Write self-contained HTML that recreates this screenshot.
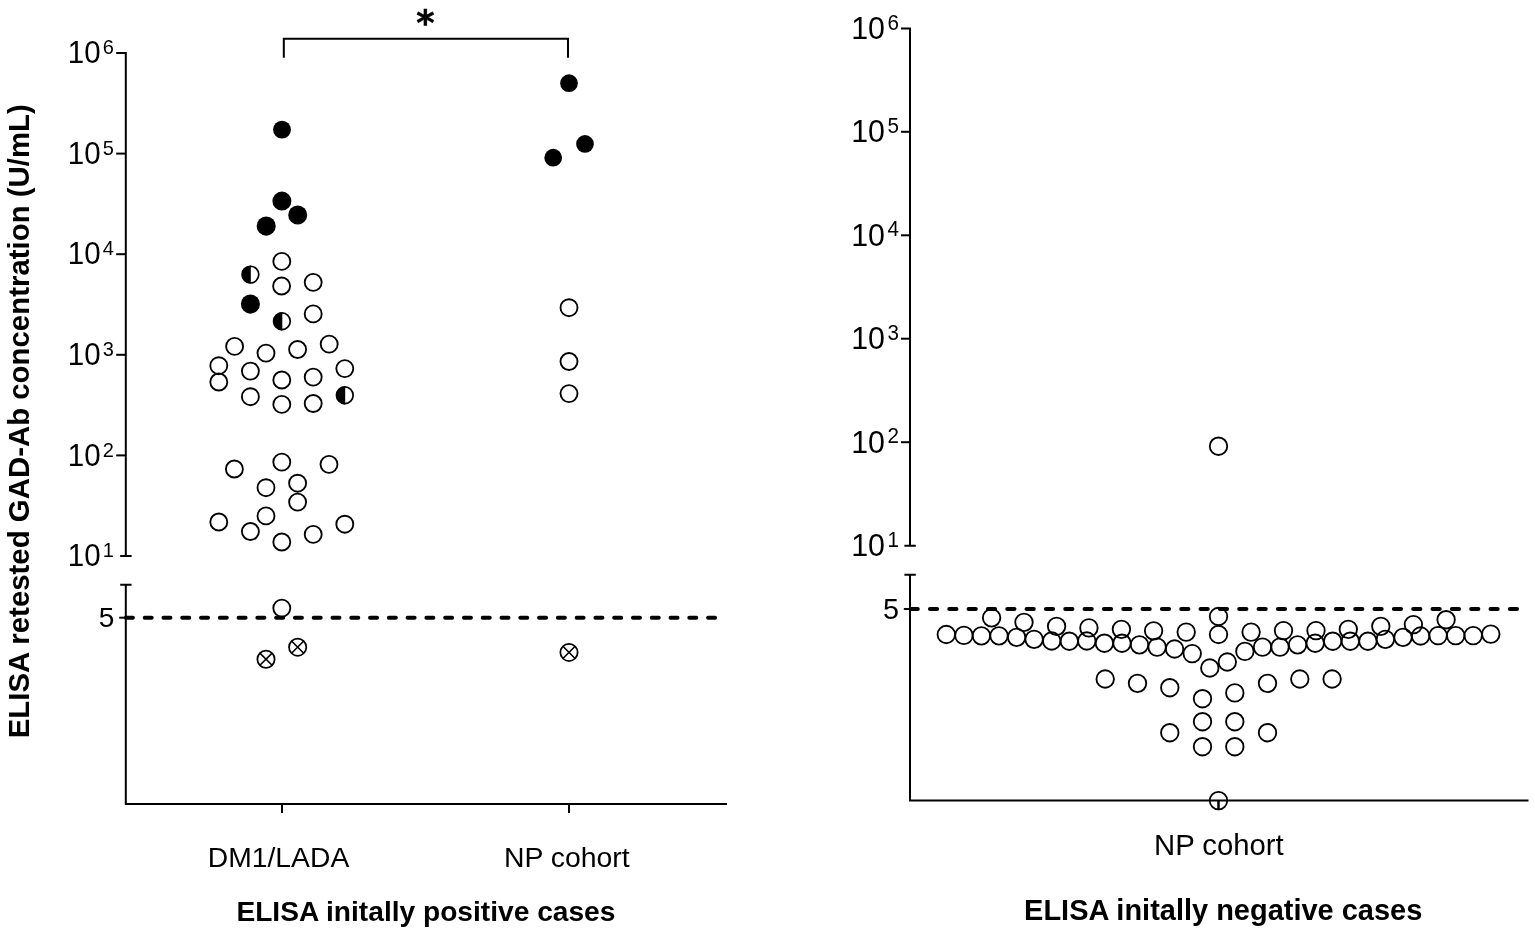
<!DOCTYPE html>
<html><head><meta charset="utf-8"><title>ELISA GAD-Ab</title>
<style>html,body{margin:0;padding:0;background:#fff;}svg{display:block;}</style>
</head><body>
<svg width="1535" height="936" viewBox="0 0 1535 936">
<rect x="0" y="0" width="1535" height="936" fill="#fff"/>
<g stroke="#000" stroke-width="2.0" fill="none" stroke-linecap="butt">
<path d="M116.2 53.0H125.8V556.0M120.2 556.0H131.6M120.2 584.8H131.6M125.8 584.8V803.9H727.0"/>
<path d="M116.2 153.6H125.8"/>
<path d="M116.2 254.2H125.8"/>
<path d="M116.2 354.8H125.8"/>
<path d="M116.2 455.4H125.8"/>
<path d="M119.2 617.7H125.8"/>
<path d="M282.0 803.9V813.1"/>
<path d="M569.0 803.9V813.1"/>
<path d="M283.8 57.8V38.7H568.0V57.8"/>
<path d="M901.0 28.4H910.0V545.7M904.4 545.7H915.8M904.4 574.8H915.8M910.0 574.8V800.4H1528.5"/>
<path d="M901.0 131.8H910.0"/>
<path d="M901.0 235.3H910.0"/>
<path d="M901.0 338.7H910.0"/>
<path d="M901.0 442.2H910.0"/>
<path d="M903.8 609.0H910.0"/>
<path d="M1218.5 800.4V809.4"/>
</g>
<path d="M125.9 617.7H717" stroke="#000" stroke-width="4" stroke-linecap="round" stroke-dasharray="7.0 11.78" fill="none"/>
<path d="M910.6 609.0H1518.4" stroke="#000" stroke-width="4" stroke-linecap="round" stroke-dasharray="7.2 12.13" fill="none"/>
<circle cx="281.8" cy="261.4" r="8.5" fill="none" stroke="#000" stroke-width="1.85"/>
<circle cx="281.6" cy="286" r="8.5" fill="none" stroke="#000" stroke-width="1.85"/>
<circle cx="313.2" cy="282.3" r="8.5" fill="none" stroke="#000" stroke-width="1.85"/>
<circle cx="313.2" cy="313.9" r="8.5" fill="none" stroke="#000" stroke-width="1.85"/>
<circle cx="234.6" cy="346.4" r="8.5" fill="none" stroke="#000" stroke-width="1.85"/>
<circle cx="266" cy="353.1" r="8.5" fill="none" stroke="#000" stroke-width="1.85"/>
<circle cx="297.6" cy="349.5" r="8.5" fill="none" stroke="#000" stroke-width="1.85"/>
<circle cx="329.2" cy="344.1" r="8.5" fill="none" stroke="#000" stroke-width="1.85"/>
<circle cx="218.8" cy="365.7" r="8.5" fill="none" stroke="#000" stroke-width="1.85"/>
<circle cx="218.8" cy="382" r="8.5" fill="none" stroke="#000" stroke-width="1.85"/>
<circle cx="250.4" cy="371.1" r="8.5" fill="none" stroke="#000" stroke-width="1.85"/>
<circle cx="281.8" cy="380" r="8.5" fill="none" stroke="#000" stroke-width="1.85"/>
<circle cx="313.2" cy="377.1" r="8.5" fill="none" stroke="#000" stroke-width="1.85"/>
<circle cx="344.8" cy="368.6" r="8.5" fill="none" stroke="#000" stroke-width="1.85"/>
<circle cx="250.4" cy="396.7" r="8.5" fill="none" stroke="#000" stroke-width="1.85"/>
<circle cx="281.8" cy="404.4" r="8.5" fill="none" stroke="#000" stroke-width="1.85"/>
<circle cx="313.2" cy="403.5" r="8.5" fill="none" stroke="#000" stroke-width="1.85"/>
<circle cx="234.4" cy="469" r="8.5" fill="none" stroke="#000" stroke-width="1.85"/>
<circle cx="281.8" cy="462.1" r="8.5" fill="none" stroke="#000" stroke-width="1.85"/>
<circle cx="329" cy="464.3" r="8.5" fill="none" stroke="#000" stroke-width="1.85"/>
<circle cx="266" cy="487.7" r="8.5" fill="none" stroke="#000" stroke-width="1.85"/>
<circle cx="297.6" cy="483.2" r="8.5" fill="none" stroke="#000" stroke-width="1.85"/>
<circle cx="297.6" cy="502.1" r="8.5" fill="none" stroke="#000" stroke-width="1.85"/>
<circle cx="266" cy="515.9" r="8.5" fill="none" stroke="#000" stroke-width="1.85"/>
<circle cx="218.8" cy="522" r="8.5" fill="none" stroke="#000" stroke-width="1.85"/>
<circle cx="250.4" cy="531.5" r="8.5" fill="none" stroke="#000" stroke-width="1.85"/>
<circle cx="281.8" cy="542" r="8.5" fill="none" stroke="#000" stroke-width="1.85"/>
<circle cx="313.2" cy="534.4" r="8.5" fill="none" stroke="#000" stroke-width="1.85"/>
<circle cx="344.8" cy="524.2" r="8.5" fill="none" stroke="#000" stroke-width="1.85"/>
<circle cx="281.8" cy="608.1" r="8.5" fill="none" stroke="#000" stroke-width="1.85"/>
<circle cx="569" cy="307.7" r="8.5" fill="none" stroke="#000" stroke-width="1.85"/>
<circle cx="569" cy="361.5" r="8.5" fill="none" stroke="#000" stroke-width="1.85"/>
<circle cx="569" cy="393.6" r="8.5" fill="none" stroke="#000" stroke-width="1.85"/>
<circle cx="282.0" cy="129.6" r="8.95" fill="#000"/>
<circle cx="281.9" cy="201.1" r="9.5" fill="#000"/>
<circle cx="297.7" cy="215.0" r="9.5" fill="#000"/>
<circle cx="266.2" cy="226.1" r="9.55" fill="#000"/>
<circle cx="250.4" cy="304.1" r="9.55" fill="#000"/>
<circle cx="569" cy="83.2" r="8.85" fill="#000"/>
<circle cx="585.0" cy="143.9" r="8.85" fill="#000"/>
<circle cx="553.2" cy="157.7" r="8.85" fill="#000"/>
<circle cx="250.4" cy="274.6" r="8.35" fill="none" stroke="#000" stroke-width="1.7"/>
<path d="M250.80 265.41A9.2 9.2 0 0 0 250.80 283.79Z" fill="#000"/>
<circle cx="281.9" cy="321.25" r="8.35" fill="none" stroke="#000" stroke-width="1.7"/>
<path d="M282.30 312.06A9.2 9.2 0 0 0 282.30 330.44Z" fill="#000"/>
<circle cx="344.8" cy="395.3" r="8.35" fill="none" stroke="#000" stroke-width="1.7"/>
<path d="M345.20 386.11A9.2 9.2 0 0 0 345.20 404.49Z" fill="#000"/>
<circle cx="266.0" cy="659.2" r="8.625" fill="none" stroke="#000" stroke-width="1.75"/>
<path d="M259.90 653.10L272.10 665.30M272.10 653.10L259.90 665.30" stroke="#000" stroke-width="1.6"/>
<circle cx="297.65" cy="647.15" r="8.625" fill="none" stroke="#000" stroke-width="1.75"/>
<path d="M291.55 641.05L303.75 653.25M303.75 641.05L291.55 653.25" stroke="#000" stroke-width="1.6"/>
<circle cx="569" cy="652.4" r="8.625" fill="none" stroke="#000" stroke-width="1.75"/>
<path d="M562.90 646.30L575.10 658.50M575.10 646.30L562.90 658.50" stroke="#000" stroke-width="1.6"/>
<circle cx="946.3" cy="634.5" r="8.75" fill="none" stroke="#000" stroke-width="1.85"/>
<circle cx="963.9" cy="635.4" r="8.75" fill="none" stroke="#000" stroke-width="1.85"/>
<circle cx="981.4" cy="635.8" r="8.75" fill="none" stroke="#000" stroke-width="1.85"/>
<circle cx="999.0" cy="635.8" r="8.75" fill="none" stroke="#000" stroke-width="1.85"/>
<circle cx="1016.6" cy="637.3" r="8.75" fill="none" stroke="#000" stroke-width="1.85"/>
<circle cx="1034.1" cy="639.3" r="8.75" fill="none" stroke="#000" stroke-width="1.85"/>
<circle cx="1051.7" cy="641.0" r="8.75" fill="none" stroke="#000" stroke-width="1.85"/>
<circle cx="1069.3" cy="641.2" r="8.75" fill="none" stroke="#000" stroke-width="1.85"/>
<circle cx="1086.8" cy="641.0" r="8.75" fill="none" stroke="#000" stroke-width="1.85"/>
<circle cx="1104.4" cy="643.2" r="8.75" fill="none" stroke="#000" stroke-width="1.85"/>
<circle cx="1122.0" cy="643.2" r="8.75" fill="none" stroke="#000" stroke-width="1.85"/>
<circle cx="1139.5" cy="644.8" r="8.75" fill="none" stroke="#000" stroke-width="1.85"/>
<circle cx="1157.1" cy="647.1" r="8.75" fill="none" stroke="#000" stroke-width="1.85"/>
<circle cx="1174.6" cy="649.0" r="8.75" fill="none" stroke="#000" stroke-width="1.85"/>
<circle cx="1192.2" cy="653.6" r="8.75" fill="none" stroke="#000" stroke-width="1.85"/>
<circle cx="1209.8" cy="668.0" r="8.75" fill="none" stroke="#000" stroke-width="1.85"/>
<circle cx="1227.3" cy="662.0" r="8.75" fill="none" stroke="#000" stroke-width="1.85"/>
<circle cx="1244.9" cy="651.4" r="8.75" fill="none" stroke="#000" stroke-width="1.85"/>
<circle cx="1262.5" cy="647.1" r="8.75" fill="none" stroke="#000" stroke-width="1.85"/>
<circle cx="1280.0" cy="647.1" r="8.75" fill="none" stroke="#000" stroke-width="1.85"/>
<circle cx="1297.6" cy="644.8" r="8.75" fill="none" stroke="#000" stroke-width="1.85"/>
<circle cx="1315.2" cy="643.2" r="8.75" fill="none" stroke="#000" stroke-width="1.85"/>
<circle cx="1332.7" cy="641.2" r="8.75" fill="none" stroke="#000" stroke-width="1.85"/>
<circle cx="1350.3" cy="641.2" r="8.75" fill="none" stroke="#000" stroke-width="1.85"/>
<circle cx="1367.9" cy="641.2" r="8.75" fill="none" stroke="#000" stroke-width="1.85"/>
<circle cx="1385.4" cy="639.3" r="8.75" fill="none" stroke="#000" stroke-width="1.85"/>
<circle cx="1403.0" cy="637.3" r="8.75" fill="none" stroke="#000" stroke-width="1.85"/>
<circle cx="1420.6" cy="636.0" r="8.75" fill="none" stroke="#000" stroke-width="1.85"/>
<circle cx="1438.1" cy="635.6" r="8.75" fill="none" stroke="#000" stroke-width="1.85"/>
<circle cx="1455.7" cy="635.6" r="8.75" fill="none" stroke="#000" stroke-width="1.85"/>
<circle cx="1473.2" cy="635.6" r="8.75" fill="none" stroke="#000" stroke-width="1.85"/>
<circle cx="1490.8" cy="634.1" r="8.75" fill="none" stroke="#000" stroke-width="1.85"/>
<circle cx="991.6" cy="617.8" r="8.75" fill="none" stroke="#000" stroke-width="1.85"/>
<circle cx="1024" cy="622.3" r="8.75" fill="none" stroke="#000" stroke-width="1.85"/>
<circle cx="1056.6" cy="626.3" r="8.75" fill="none" stroke="#000" stroke-width="1.85"/>
<circle cx="1088.9" cy="627.9" r="8.75" fill="none" stroke="#000" stroke-width="1.85"/>
<circle cx="1121.4" cy="629.3" r="8.75" fill="none" stroke="#000" stroke-width="1.85"/>
<circle cx="1153.6" cy="630.8" r="8.75" fill="none" stroke="#000" stroke-width="1.85"/>
<circle cx="1186.2" cy="632.1" r="8.75" fill="none" stroke="#000" stroke-width="1.85"/>
<circle cx="1218.5" cy="616.5" r="8.75" fill="none" stroke="#000" stroke-width="1.85"/>
<circle cx="1218.5" cy="634.5" r="8.75" fill="none" stroke="#000" stroke-width="1.85"/>
<circle cx="1251.1" cy="632.1" r="8.75" fill="none" stroke="#000" stroke-width="1.85"/>
<circle cx="1283.5" cy="630.6" r="8.75" fill="none" stroke="#000" stroke-width="1.85"/>
<circle cx="1316" cy="630.6" r="8.75" fill="none" stroke="#000" stroke-width="1.85"/>
<circle cx="1348.3" cy="629.3" r="8.75" fill="none" stroke="#000" stroke-width="1.85"/>
<circle cx="1380.8" cy="626.3" r="8.75" fill="none" stroke="#000" stroke-width="1.85"/>
<circle cx="1413.4" cy="624.6" r="8.75" fill="none" stroke="#000" stroke-width="1.85"/>
<circle cx="1446.1" cy="619.7" r="8.75" fill="none" stroke="#000" stroke-width="1.85"/>
<circle cx="1105.2" cy="679" r="8.75" fill="none" stroke="#000" stroke-width="1.85"/>
<circle cx="1137.5" cy="683.3" r="8.75" fill="none" stroke="#000" stroke-width="1.85"/>
<circle cx="1169.8" cy="687.7" r="8.75" fill="none" stroke="#000" stroke-width="1.85"/>
<circle cx="1202.5" cy="698.7" r="8.75" fill="none" stroke="#000" stroke-width="1.85"/>
<circle cx="1234.8" cy="692.9" r="8.75" fill="none" stroke="#000" stroke-width="1.85"/>
<circle cx="1267.5" cy="683.3" r="8.75" fill="none" stroke="#000" stroke-width="1.85"/>
<circle cx="1299.8" cy="679" r="8.75" fill="none" stroke="#000" stroke-width="1.85"/>
<circle cx="1332.1" cy="679" r="8.75" fill="none" stroke="#000" stroke-width="1.85"/>
<circle cx="1202.5" cy="721.7" r="8.75" fill="none" stroke="#000" stroke-width="1.85"/>
<circle cx="1234.8" cy="721.7" r="8.75" fill="none" stroke="#000" stroke-width="1.85"/>
<circle cx="1169.8" cy="732.7" r="8.75" fill="none" stroke="#000" stroke-width="1.85"/>
<circle cx="1267.5" cy="732.7" r="8.75" fill="none" stroke="#000" stroke-width="1.85"/>
<circle cx="1202.5" cy="746.7" r="8.75" fill="none" stroke="#000" stroke-width="1.85"/>
<circle cx="1234.8" cy="746.7" r="8.75" fill="none" stroke="#000" stroke-width="1.85"/>
<circle cx="1218.5" cy="446.2" r="8.75" fill="none" stroke="#000" stroke-width="1.85"/>
<circle cx="1218.5" cy="800.6" r="8.75" fill="none" stroke="#000" stroke-width="1.85"/>
<path d="M1218.5 800.4V809.4" stroke="#000" stroke-width="2"/>
<g font-family='"Liberation Sans", Arial, sans-serif' fill="#000">
<text transform="translate(100.6 63.20) scale(1 1.06)" font-size="29.5" text-anchor="end">10</text>
<text transform="translate(113.8 54.10) scale(1 1.03)" font-size="20" text-anchor="end">6</text>
<text transform="translate(885.0 39.00) scale(1 1.06)" font-size="30.35" text-anchor="end">10</text>
<text transform="translate(899.0 29.60) scale(1 1.03)" font-size="20.6" text-anchor="end">6</text>
<text transform="translate(100.6 163.80) scale(1 1.06)" font-size="29.5" text-anchor="end">10</text>
<text transform="translate(113.8 154.70) scale(1 1.03)" font-size="20" text-anchor="end">5</text>
<text transform="translate(885.0 142.44) scale(1 1.06)" font-size="30.35" text-anchor="end">10</text>
<text transform="translate(899.0 133.04) scale(1 1.03)" font-size="20.6" text-anchor="end">5</text>
<text transform="translate(100.6 264.40) scale(1 1.06)" font-size="29.5" text-anchor="end">10</text>
<text transform="translate(113.8 255.30) scale(1 1.03)" font-size="20" text-anchor="end">4</text>
<text transform="translate(885.0 245.88) scale(1 1.06)" font-size="30.35" text-anchor="end">10</text>
<text transform="translate(899.0 236.48) scale(1 1.03)" font-size="20.6" text-anchor="end">4</text>
<text transform="translate(100.6 365.00) scale(1 1.06)" font-size="29.5" text-anchor="end">10</text>
<text transform="translate(113.8 355.90) scale(1 1.03)" font-size="20" text-anchor="end">3</text>
<text transform="translate(885.0 349.32) scale(1 1.06)" font-size="30.35" text-anchor="end">10</text>
<text transform="translate(899.0 339.92) scale(1 1.03)" font-size="20.6" text-anchor="end">3</text>
<text transform="translate(100.6 465.60) scale(1 1.06)" font-size="29.5" text-anchor="end">10</text>
<text transform="translate(113.8 456.50) scale(1 1.03)" font-size="20" text-anchor="end">2</text>
<text transform="translate(885.0 452.76) scale(1 1.06)" font-size="30.35" text-anchor="end">10</text>
<text transform="translate(899.0 443.36) scale(1 1.03)" font-size="20.6" text-anchor="end">2</text>
<text transform="translate(100.6 566.20) scale(1 1.06)" font-size="29.5" text-anchor="end">10</text>
<text transform="translate(113.8 557.10) scale(1 1.03)" font-size="20" text-anchor="end">1</text>
<text transform="translate(885.0 556.30) scale(1 1.06)" font-size="30.35" text-anchor="end">10</text>
<text transform="translate(899.0 546.90) scale(1 1.03)" font-size="20.6" text-anchor="end">1</text>
<text x="114.4" y="627.0" font-size="28" text-anchor="end">5</text>
<text x="899.0" y="618.6" font-size="28.8" text-anchor="end">5</text>
<text x="278.5" y="866.8" font-size="28.3" text-anchor="middle">DM1/LADA</text>
<text x="566.8" y="866.8" font-size="28.4" text-anchor="middle">NP cohort</text>
<text x="1218.9" y="854.7" font-size="29.3" text-anchor="middle">NP cohort</text>
<text x="425.9" y="920.5" font-size="28.15" font-weight="bold" text-anchor="middle">ELISA initally positive cases</text>
<text x="1223.2" y="920.4" font-size="28.97" font-weight="bold" text-anchor="middle">ELISA initally negative cases</text>
<text transform="translate(28.6 421.25) rotate(-90)" font-size="29.4" font-weight="bold" text-anchor="middle">ELISA retested GAD-Ab concentration (U/mL)</text>
</g>
<text x="416.35" y="34.9" font-family="'DejaVu Sans', 'Liberation Sans', sans-serif" font-size="35" font-weight="bold" stroke="#000" stroke-width="0.5">*</text>
</svg>
</body></html>
